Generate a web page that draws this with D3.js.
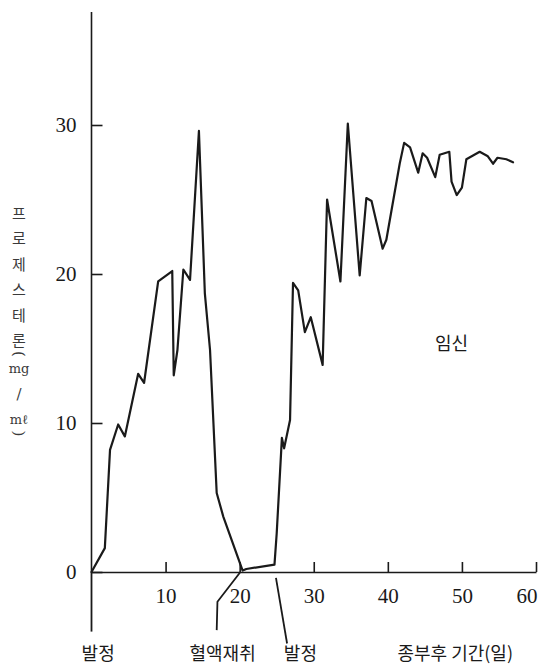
<!DOCTYPE html>
<html>
<head>
<meta charset="utf-8">
<script src="https://cdn.jsdelivr.net/npm/d3@7"></script>
<style>
  body { margin: 0; background: #fff; }
  svg { display: block; }
</style>
</head>
<body>
<div id="chart-area"></div>
<script>
// days after mating
var days = [0, 1.8, 2.5, 3.6, 4.5, 6.3, 7.1, 9.0, 10.9, 11.1, 11.6, 12.4, 13.3, 14.5, 15.3, 16.0, 16.9, 17.8, 20.4,
	20.9, 24.7, 25.0, 25.7, 26.0, 26.8, 27.2, 27.9, 28.8, 29.6, 31.2, 31.8, 33.6, 34.6, 36.2, 37.1, 37.8, 39.3, 39.8,
	41.6, 42.2, 43.0, 44.1, 44.7, 45.3, 46.4, 47.0, 48.3, 48.6, 49.3, 50.0, 50.6, 52.4, 53.5, 54.2, 54.8, 56.0, 56.9];
// progesterone (mg/ml)
var progesterone = [0, 1.6, 8.2, 9.9, 9.1, 13.3, 12.7, 19.5, 20.2, 13.2, 14.9, 20.3, 19.6, 29.6, 18.7, 14.9, 5.3, 3.7, 0.1,
	0.2, 0.5, 2.6, 9.0, 8.3, 10.2, 19.4, 18.9, 16.1, 17.1, 13.9, 25.0, 19.5, 30.1, 19.9, 25.1, 24.9, 21.7, 22.3,
	27.4, 28.8, 28.5, 26.8, 28.1, 27.8, 26.5, 28.0, 28.2, 26.2, 25.3, 25.8, 27.7, 28.2, 27.9, 27.4, 27.8, 27.7, 27.5];

var xTicks = [10, 20, 30, 40, 50, 60];
var yTicks = [0, 10, 20, 30];
var yLabelChars = ["프", "로", "제", "스", "테", "론", "(", "mg", "/", "mℓ", ")"];

// pointer lines under the x axis: [day, value] pairs
var pointers = [
	{ text: "발정", pts: [[0, 0], [0, -4.0]], label: [0.9, -5.9] },
	{ text: "혈액재취", pts: [[20.1, 0], [17.0, -2.0], [16.9, -3.9]], label: [17.7, -5.9] },
	{ text: "발정", pts: [[24.9, -0.4], [26.4, -4.8]], label: [28.2, -5.9] }
];
var xTitle = "종부후 기간(일)";
var note = "임신";

var svg = d3.select("#chart-area").append("svg")
	.attr("width", 538)
	.attr("height", 668);

var x = d3.scaleLinear()
	.domain([0, 60])
	.range([91.5, 536]);

var y = d3.scaleLinear()
	.domain([0, 30])
	.range([572, 125]);

var ink = "#1a1a1a";

// y axis
var yAxis = d3.axisLeft(y)
	.tickValues(yTicks)
	.tickSizeInner(-11)
	.tickSizeOuter(0)
	.tickPadding(15);

var gy = svg.append("g")
	.attr("transform", "translate(" + x(0) + ",0)")
	.call(yAxis);
gy.select(".domain").remove();
gy.selectAll("line").attr("stroke", ink).attr("stroke-width", 1.6);
gy.selectAll("text")
	.attr("fill", ink)
	.style("font-family", "'Liberation Serif', serif")
	.style("font-size", "21px");

svg.append("line")
	.attr("x1", x(0)).attr("x2", x(0))
	.attr("y1", 12).attr("y2", y(0))
	.attr("stroke", ink).attr("stroke-width", 1.6);

// x axis
var xAxis = d3.axisBottom(x)
	.tickValues(xTicks)
	.tickSizeInner(-10)
	.tickSizeOuter(0)
	.tickPadding(16);

var gx = svg.append("g")
	.attr("transform", "translate(0," + y(0) + ")")
	.call(xAxis);
gx.select(".domain").attr("stroke", ink).attr("stroke-width", 1.6);
gx.selectAll("line").attr("stroke", ink).attr("stroke-width", 1.6);
gx.selectAll("text")
	.attr("fill", ink)
	.style("font-family", "'Liberation Serif', serif")
	.style("font-size", "21px");
// last label sits against the right edge
gx.selectAll(".tick").filter((d) => d == 60).select("text")
	.attr("text-anchor", "end")
	.attr("x", 1);

// y axis title, written top to bottom
var ty = 212;
var yLabelPos = yLabelChars.map((d) => {
	var small = (d == "(" || d == ")");
	var pos = ty + (small ? -11 : 0);
	ty = pos + (small ? 14 : 25.5);
	return pos;
});

svg.append("g").selectAll("text")
	.data(yLabelChars)
	.enter().append("text")
	.attr("transform", (d, i) => {
		if (d == "(" || d == ")") {
			return "translate(19," + yLabelPos[i] + ") rotate(90)";
		}
		return "translate(19," + yLabelPos[i] + ")";
	})
	.attr("text-anchor", "middle")
	.attr("dominant-baseline", "central")
	.attr("fill", "#3a3a3a")
	.style("font-family", (d) => /[a-zℓ\/()]/.test(d) ? "'DejaVu Serif', serif" : "'Noto Sans CJK KR', sans-serif")
	.style("font-size", (d) => /[a-zℓ]/.test(d) ? "13px" : "15px")
	.text((d) => d);

// data line
var series = days.map((d, i) => [d, progesterone[i]]);

var line = d3.line()
	.x((d) => x(d[0]))
	.y((d) => y(d[1]));

svg.append("path")
	.datum(series)
	.attr("d", line)
	.attr("fill", "none")
	.attr("stroke", ink)
	.attr("stroke-width", 2.2)
	.attr("stroke-linejoin", "round")
	.attr("stroke-linecap", "round");

// pointers and their labels
svg.append("g").selectAll("path")
	.data(pointers)
	.enter().append("path")
	.attr("d", (d) => line(d.pts))
	.attr("fill", "none")
	.attr("stroke", ink)
	.attr("stroke-width", 1.8);

var korean = "'Noto Sans CJK KR', sans-serif";

svg.append("g").selectAll("text")
	.data(pointers)
	.enter().append("text")
	.attr("x", (d) => x(d.label[0]))
	.attr("y", (d) => y(d.label[1]))
	.attr("text-anchor", "middle")
	.attr("fill", ink)
	.style("font-family", korean)
	.style("font-size", "18px")
	.text((d) => d.text);

svg.append("text")
	.attr("x", x(49.1))
	.attr("y", y(-5.9))
	.attr("text-anchor", "middle")
	.attr("fill", ink)
	.style("font-family", korean)
	.style("font-size", "18px")
	.text(xTitle);

svg.append("text")
	.attr("x", x(48.6))
	.attr("y", y(14.9))
	.attr("text-anchor", "middle")
	.attr("fill", ink)
	.style("font-family", korean)
	.style("font-size", "18px")
	.text(note);
</script>
</body>
</html>
